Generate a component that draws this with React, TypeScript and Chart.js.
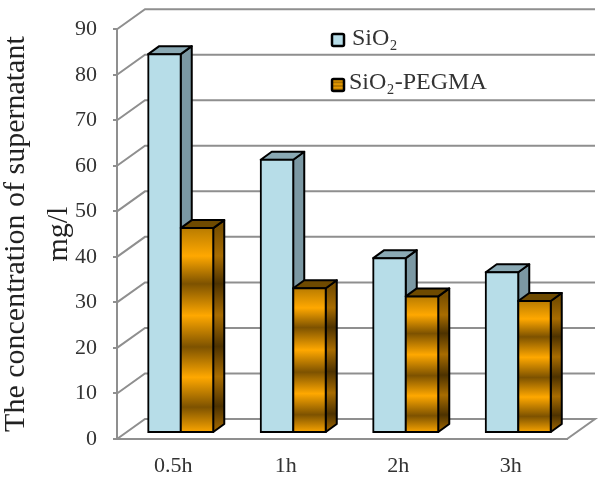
import React, { useEffect, useRef } from "react";
import { Chart, registerables } from "chart.js";

Chart.register(...registerables);

const categories = ["0.5h", "1h", "2h", "3h"];
const sio2Values = [83.2, 60, 38.4, 35.3];
const pegmaValues = [45, 31.8, 30, 29];
const seriesNames = ["SiO₂", "SiO₂-PEGMA"];
const yTitle = ["The concentration of supernatant", "mg/l"];

const WALL_DX = 28;
const WALL_DY = -20;
const BAR_SHIFT_X = 7.5;
const BAR_SHIFT_Y = -6;
const BAR_DX = 11;
const BAR_DY = -8;
const GRID = "#8f8f8f";
const FONT = "'Liberation Serif', serif";

const bandStops = [0, 0.136, 0.272, 0.427, 0.58, 0.728, 0.874, 1];
const bandKinds = ["mid", "hi", "lo", "hi", "lo", "hi", "lo", "hi"];

function bandGradient(ctx: CanvasRenderingContext2D, top: number, bottom: number, pal: Record<string, string>) {
  const g = ctx.createLinearGradient(0, top, 0, bottom);
  bandStops.forEach((s, i) => g.addColorStop(s, pal[bandKinds[i]]));
  return g;
}
const frontPal = { hi: "#ffa800", lo: "#7d5200", mid: "#b97c00" };
const sidePal = { hi: "#a86c00", lo: "#4d3200", mid: "#7a5000" };

const wallPlugin = {
  id: "walls",
  beforeDatasetsDraw(chart: any) {
    const { ctx, chartArea: a, scales } = chart;
    ctx.save();
    ctx.strokeStyle = GRID;
    ctx.lineWidth = 2;
    scales.y.ticks.forEach((t: any) => {
      const y = scales.y.getPixelForValue(t.value);
      ctx.beginPath();
      ctx.moveTo(a.left, y);
      ctx.lineTo(a.left + WALL_DX, y + WALL_DY);
      ctx.lineTo(a.right + WALL_DX, y + WALL_DY);
      if (t.value === 0) {
        ctx.lineTo(a.right, y);
      }
      ctx.stroke();
    });
    ctx.restore();
  },
};

function drawFaces(ctx: CanvasRenderingContext2D, meta: any, isBlue: boolean) {
  meta.data.forEach((el: any) => {
    const r = el.x + el.width / 2;
    const l = el.x - el.width / 2;
    const top = el.y;
    const bot = el.base;
    ctx.lineWidth = 2;
    ctx.strokeStyle = "#000";
    ctx.lineJoin = "round";
    ctx.beginPath();
    ctx.moveTo(r, top);
    ctx.lineTo(r + BAR_DX, top + BAR_DY);
    ctx.lineTo(r + BAR_DX, bot + BAR_DY);
    ctx.lineTo(r, bot);
    ctx.closePath();
    ctx.fillStyle = isBlue ? "#7b98a3" : bandGradient(ctx, top, bot, sidePal);
    ctx.fill();
    ctx.stroke();
    ctx.beginPath();
    ctx.moveTo(l, top);
    ctx.lineTo(l + BAR_DX, top + BAR_DY);
    ctx.lineTo(r + BAR_DX, top + BAR_DY);
    ctx.lineTo(r, top);
    ctx.closePath();
    ctx.fillStyle = isBlue ? "#8aa9b4" : "#6e4a00";
    ctx.fill();
    ctx.stroke();
  });
}

const barsPlugin = {
  id: "bars3d",
  beforeDatasetDraw(chart: any, args: any) {
    // Chart.js paints the last dataset first; the second series has to sit in front of the first.
    if (args.index === 1) return false;
    const { ctx } = chart;
    ctx.save();
    ctx.translate(BAR_SHIFT_X, BAR_SHIFT_Y);
    drawFaces(ctx, args.meta, true);
  },
  afterDatasetDraw(chart: any, args: any) {
    const { ctx } = chart;
    if (args.index === 0) {
      const front = chart.getDatasetMeta(1);
      drawFaces(ctx, front, false);
      front.controller.draw();
    }
    ctx.restore();
  },
};

const legendPlugin = {
  id: "sideLegend",
  afterDraw(chart: any) {
    const { ctx } = chart;
    const rows = [
      { y: 34, tx: 352, by: 45 },
      { y: 79, tx: 349, by: 89 },
    ];
    ctx.save();
    chart.data.datasets.forEach((ds: any, i: number) => {
      const r = rows[i];
      ctx.fillStyle = i === 0 ? "#b7dde8" : bandGradient(ctx, r.y, r.y + 12, { hi: "#f0a000", lo: "#a06c00", mid: "#b97c00" });
      ctx.strokeStyle = "#000";
      ctx.lineWidth = 2.5;
      ctx.beginPath();
      ctx.roundRect(332, r.y, 12, 12, 1.5);
      ctx.fill();
      ctx.stroke();
      ctx.fillStyle = "#333";
      ctx.font = `24px ${FONT}`;
      ctx.textAlign = "left";
      ctx.textBaseline = "alphabetic";
      ctx.fillText(ds.label, r.tx, r.by);
    });
    ctx.restore();
  },
};

export default function App() {
  const ref = useRef<HTMLCanvasElement | null>(null);
  useEffect(() => {
    const ctx = ref.current!.getContext("2d")!;
    const frontFill = (c: any) => {
      const y = c.chart.scales.y;
      const v = c.parsed ? c.parsed.y : undefined;
      if (!y || v === undefined) return "#ffa800";
      const top = y.getPixelForValue(v);
      const bot = y.getPixelForValue(0);
      if (!Number.isFinite(top) || !Number.isFinite(bot)) return "#ffa800";
      return bandGradient(ctx, top, bot, frontPal);
    };
    const chart = new Chart(ref.current!, {
      type: "bar",
      data: {
        labels: categories,
        datasets: [
          { label: seriesNames[0], data: sio2Values, backgroundColor: "#b7dde8" },
          { label: seriesNames[1], data: pegmaValues, backgroundColor: frontFill },
        ],
      },
      options: {
        responsive: false,
        animation: false,
        devicePixelRatio: 1,
        layout: { padding: { top: 29, right: 33, left: 0, bottom: 0 } },
        datasets: { bar: { barPercentage: 1, categoryPercentage: 0.578, borderColor: "#000", borderWidth: 2, borderSkipped: false, inflateAmount: 1 } },
        plugins: { legend: { display: false }, tooltip: { enabled: false } },
        scales: {
          x: {
            afterFit: (s: any) => { s.height = 38; },
            grid: { display: false, drawTicks: false },
            border: { display: true, color: GRID, width: 2 },
            ticks: { padding: 14, color: "#333", maxRotation: 0, font: { family: FONT, size: 22 } },
          },
          y: {
            min: 0,
            max: 90,
            afterFit: (s: any) => { s.width = 117; },
            grid: { drawOnChartArea: false, color: GRID, lineWidth: 2, tickLength: 4 },
            border: { display: true, color: GRID, width: 2 },
            ticks: { stepSize: 10, padding: 16, color: "#333", font: { family: FONT, size: 22 } },
            title: {
              display: true,
              text: yTitle,
              color: "#222",
              font: { family: FONT, size: 30, lineHeight: 1.42 },
              padding: { top: -5, bottom: -5 },
            },
          },
        },
      },
      plugins: [wallPlugin, barsPlugin, legendPlugin],
    } as any);
    return () => chart.destroy();
  }, []);
  return (
    <div style={{ position: "absolute", left: 0, top: 0, width: 600, height: 477, background: "#fff" }}>
      <canvas ref={ref} width={600} height={477} style={{ display: "block" }} />
    </div>
  );
}
